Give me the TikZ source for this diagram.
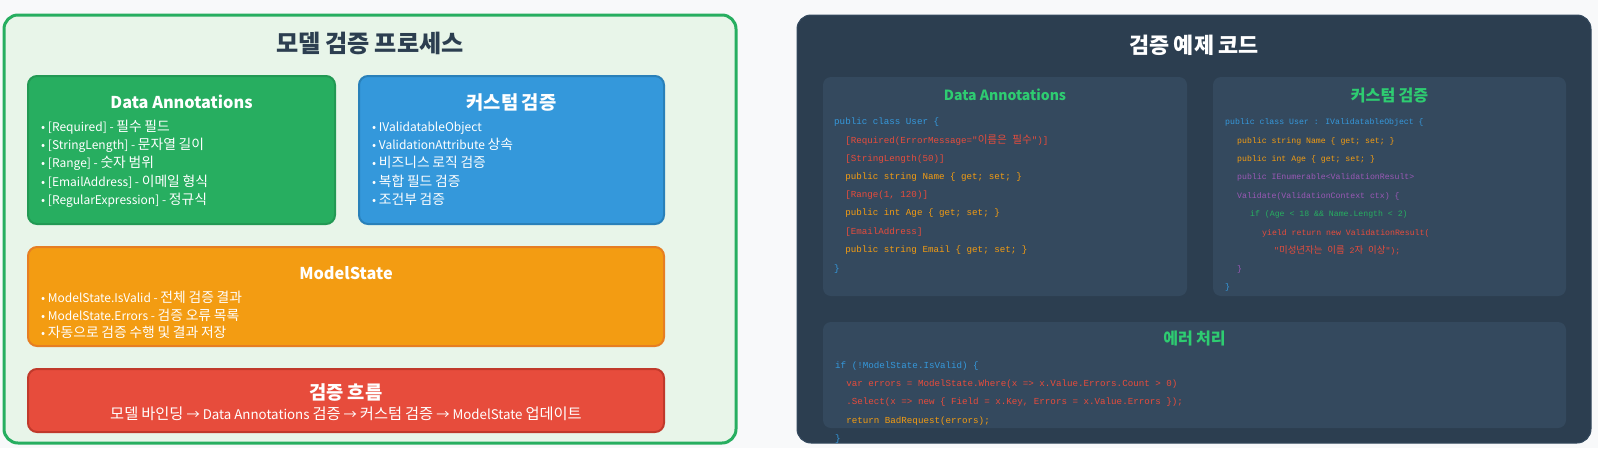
\documentclass[tikz,border=0pt]{standalone}
\usepackage{fontspec}
\setmainfont{Noto Sans CJK KR}
\newfontfamily\krfont[Scale=1.15]{Noto Sans CJK KR}
\newfontfamily\codefont{Liberation Mono}
% automatic switch to the (slightly larger) Korean font for Hangul syllables
\XeTeXinterchartokenstate=1
\newXeTeXintercharclass\hangulclass
\count255="AC00
\loop
  \XeTeXcharclass\count255=\hangulclass
  \ifnum\count255<"D7A3 \advance\count255 by 1 \repeat
\def\kron{\edef\krprev{\the\font}\krfont}
\def\kroff{\krprev}
\XeTeXinterchartoks 0 \hangulclass = {\kron}
\XeTeXinterchartoks 4095 \hangulclass = {\kron}
\XeTeXinterchartoks \hangulclass 0 = {\kroff}
\XeTeXinterchartoks \hangulclass 4095 = {\kroff}
\definecolor{bgc}{HTML}{F8F9FA}
\definecolor{dark}{HTML}{2C3E50}
\definecolor{darkb}{HTML}{34495E}
\definecolor{gfill}{HTML}{E8F5E9}
\definecolor{gr}{HTML}{27AE60}
\definecolor{grd}{HTML}{229954}
\definecolor{gt}{HTML}{2ECC71}
\definecolor{bl}{HTML}{3498DB}
\definecolor{bld}{HTML}{2980B9}
\definecolor{org}{HTML}{F39C12}
\definecolor{orgd}{HTML}{E67E22}
\definecolor{rd}{HTML}{E74C3C}
\definecolor{rdd}{HTML}{C0392B}
\definecolor{pu}{HTML}{9B59B6}
\begin{document}
\begin{tikzpicture}[x=1pt,y=-1pt,
  panel/.style={rounded corners=14pt, minimum width=#1, inner sep=0pt},
  cbox/.style={rounded corners=9pt, line width=2pt, inner sep=0pt},
  cdbox/.style={rounded corners=8pt, fill=darkb, inner sep=0pt},
  ttl/.style={font=\bfseries\fontsize{21}{25}\selectfont},
  bttl/.style={font=\bfseries\fontsize{16.3}{19}\selectfont, text=white},
  cttl/.style={font=\bfseries\fontsize{14}{17}\selectfont, text=gt},
  bul/.style={font=\fontsize{12}{14}\selectfont, text=white, anchor=base west, inner sep=0pt, yshift=-3.5pt},
  cd/.style={font=\codefont\fontsize{9.2}{11}\selectfont, anchor=base west, inner sep=0pt, yshift=-2.4pt},
  cds/.style={font=\codefont\fontsize{8.2}{10}\selectfont, anchor=base west, inner sep=0pt, yshift=-2.1pt}]
\useasboundingbox[fill=bgc] (0,0) rectangle (1598,448);
% left panel
\node[panel=732pt, minimum height=428pt, draw=gr, line width=3pt, fill=gfill] (lp) at (370,229) {};
\node[ttl, text=dark] (lt) at (370,43) {모델 검증 프로세스};
% data annotations
\node[cbox, draw=grd, fill=gr, minimum width=307pt, minimum height=148pt] (da) at (181.5,150) {};
\node[bttl] (dat) at (181.5,102) {Data Annotations};
\node[bul] (da1) at (41,128) {• [Required] - 필수 필드};
\node[bul] (da2) at (41,146) {• [StringLength] - 문자열 길이};
\node[bul] (da3) at (41,164) {• [Range] - 숫자 범위};
\node[bul] (da4) at (41,183) {• [EmailAddress] - 이메일 형식};
\node[bul] (da5) at (41,201) {• [RegularExpression] - 정규식};
% custom
\node[cbox, draw=bld, fill=bl, minimum width=305pt, minimum height=148pt] (cu) at (511.5,150) {};
\node[bttl] (cut) at (511.5,102) {커스텀 검증};
\node[bul] (cu1) at (372,128) {• IValidatableObject};
\node[bul] (cu2) at (372,146) {• ValidationAttribute 상속};
\node[bul] (cu3) at (372,164) {• 비즈니스 로직 검증};
\node[bul] (cu4) at (372,183) {• 복합 필드 검증};
\node[bul] (cu5) at (372,201) {• 조건부 검증};
% modelstate
\node[cbox, draw=orgd, fill=org, minimum width=636pt, minimum height=99pt] (ms) at (346,296.5) {};
\node[bttl] (mst) at (346,273) {ModelState};
\node[bul] (ms1) at (41,299) {• ModelState.IsValid - 전체 검증 결과};
\node[bul] (ms2) at (41,317) {• ModelState.Errors - 검증 오류 목록};
\node[bul] (ms3) at (41,334) {• 자동으로 검증 수행 및 결과 저장};
% flow
\node[cbox, draw=rdd, fill=rd, minimum width=636pt, minimum height=63pt] (fl) at (346,400.5) {};
\node[bttl] (flt) at (346,392) {검증 흐름};
\node[font=\fontsize{13.3}{15}\selectfont, text=white, inner sep=0pt] (fls) at (346,414) {모델 바인딩 → Data Annotations 검증 → 커스텀 검증 → ModelState 업데이트};
% right panel
\node[panel=794pt, minimum height=428pt, draw=darkb, line width=1pt, fill=dark] (rp) at (1194,229) {};
\node[font=\bfseries\fontsize{19}{23}\selectfont, text=white] (rt) at (1194,45) {검증 예제 코드};
% DA code
\node[cdbox, minimum width=364pt, minimum height=219pt] (dac) at (1005,186.5) {};
\node[cttl] (dact) at (1005,95) {Data Annotations};
\node[cd, text=bl] (c1) at (834,122) {public class User \{};
\node[cd, text=rd] (c2) at (834,141) {\ \ [Required(ErrorMessage="이름은 필수")]};
\node[cd, text=rd] (c3) at (834,159) {\ \ [StringLength(50)]};
\node[cd, text=org] (c4) at (834,177) {\ \ public string Name \{ get; set; \}};
\node[cd, text=rd] (c5) at (834,195) {\ \ [Range(1, 120)]};
\node[cd, text=org] (c6) at (834,213) {\ \ public int Age \{ get; set; \}};
\node[cd, text=rd] (c7) at (834,232) {\ \ [EmailAddress]};
\node[cd, text=org] (c8) at (834,250) {\ \ public string Email \{ get; set; \}};
\node[cd, text=bl] (c9) at (834,269) {\}};
% custom code
\node[cdbox, minimum width=353pt, minimum height=219pt] (cuc) at (1389.5,186.5) {};
\node[cttl] (cuct) at (1389.5,95) {커스텀 검증};
\node[cds, text=bl] (k1) at (1225,122) {public class User : IValidatableObject \{};
\node[cds, text=org] (k2) at (1237,141) {public string Name \{ get; set; \}};
\node[cds, text=org] (k3) at (1237,159) {public int Age \{ get; set; \}};
\node[cds, text=pu] (k4) at (1237,177) {public IEnumerable<ValidationResult>};
\node[cds, text=pu] (k5) at (1237,196) {Validate(ValidationContext ctx) \{};
\node[cds, text=gr] (k6) at (1250,214) {if (Age < 18 \&\& Name.Length < 2)};
\node[cds, text=rd] (k7) at (1262,233) {yield return new ValidationResult(};
\node[cds, text=rd] (k8) at (1274,251) {"미성년자는 이름 2자 이상");};
\node[cds, text=pu] (k9) at (1237,269) {\}};
\node[cds, text=bl] (k10) at (1225,287) {\}};
% error code
\node[cdbox, minimum width=743pt, minimum height=106pt] (erc) at (1194.5,375) {};
\node[cttl] (erct) at (1194.5,338) {에러 처리};
\node[cd, text=bl] (e1) at (835,366) {if (!ModelState.IsValid) \{};
\node[cd, text=rd] (e2) at (835,384) {\ \ var errors = ModelState.Where(x => x.Value.Errors.Count > 0)};
\node[cd, text=rd] (e3) at (835,402) {\ \ .Select(x => new \{ Field = x.Key, Errors = x.Value.Errors \});};
\node[cd, text=org] (e4) at (835,421) {\ \ return BadRequest(errors);};
\node[cd, text=bl] (e5) at (835,439) {\}};
\end{tikzpicture}
\end{document}
